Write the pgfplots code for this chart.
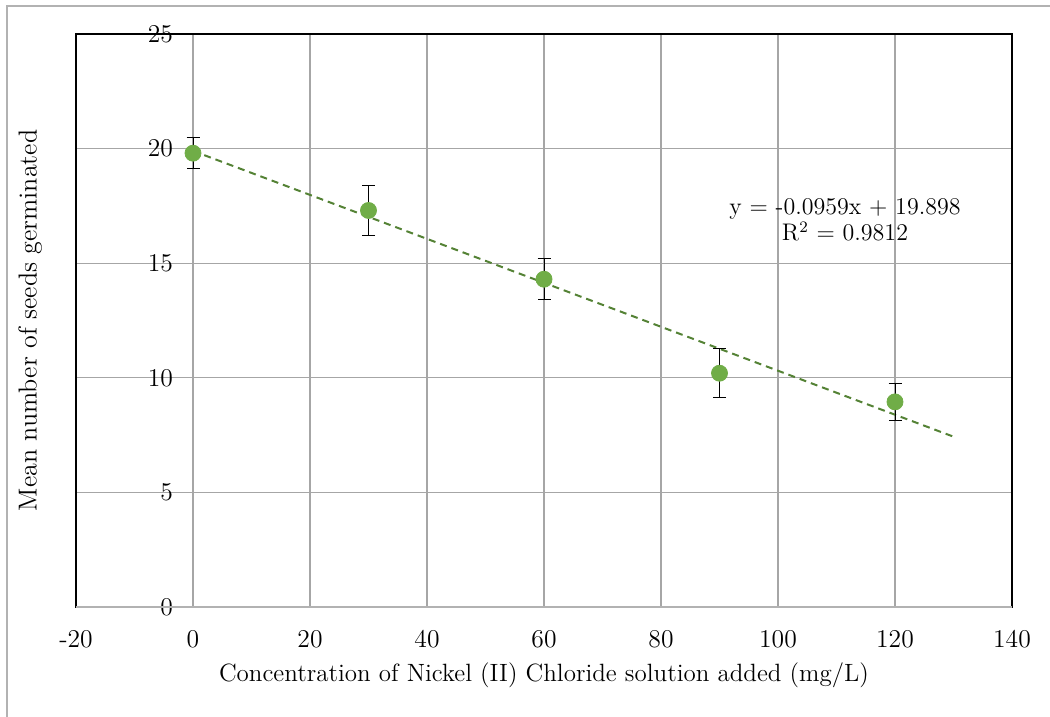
\documentclass[border=0pt]{standalone}
\usepackage{pgfplots}
\pgfplotsset{compat=1.18}
\definecolor{exgreen}{RGB}{112,173,71}
\definecolor{trendgreen}{RGB}{84,130,53}
\begin{document}
\begin{tikzpicture}[x=1pt,y=1pt]
\useasboundingbox (0,0) rectangle (525,358.5);
\draw[gray!60, line width=0.6pt] (3.5,-10) -- (3.5,355.5) -- (540,355.5);
\begin{axis}[
  at={(38pt,55pt)}, anchor=south west,
  scale only axis, width=468pt, height=286.5pt,
  xmin=-20, xmax=140, ymin=0, ymax=25,
  xtick={-20,0,20,40,60,80,100,120,140},
  xticklabels={-20,0,20,40,60,80,100,120,140},
  ytick={0,5,10,15,20,25},
  yticklabels={0,5,10,15,20,25},
  grid=major,
  major grid style={gray!70, line width=0.6pt},
  major tick length=0pt,
  axis line style={black, line width=0.6pt},
  tick label style={font=\fontsize{12.8}{15}\selectfont},
  yticklabel style={anchor=east, xshift=52pt},
  xticklabel style={anchor=north, yshift=-8.3pt},
  xlabel={Concentration of Nickel (II) Chloride solution added (mg/L)},
  ylabel={Mean number of seeds germinated},
  label style={font=\fontsize{12.5}{15}\selectfont},
  xlabel style={at={(axis description cs:0.5,-0.1187)}, anchor=center},
  ylabel style={at={(axis description cs:-0.049,0.5)}, anchor=center, font=\fontsize{13}{15}\selectfont},
  clip=false,
]
\draw[gray!60, line width=1.2pt] (axis cs:-20,0) -- (axis cs:140,0);
\addplot[trendgreen, line width=1pt, dash pattern=on 3.5pt off 2.5pt] coordinates {(0,19.898) (130,7.431)};
\addplot[only marks, mark=*, mark size=4pt, mark options={fill=exgreen, draw=exgreen},
  error bars/.cd, y dir=both, y explicit,
  error bar style={black, line width=0.5pt},
  error mark options={rotate=90, mark size=3.25pt, black, line width=0.5pt}]
  coordinates {
  (0,19.8) +- (0,0.67)
  (30,17.3) +- (0,1.1)
  (60,14.3) +- (0,0.9)
  (90,10.2) +- (0,1.07)
  (120,8.95) +- (0,0.82)
  };
\node[align=center, font=\fontsize{12}{13}\selectfont] at (axis cs:111.45,16.88) {y = -0.0959x + 19.898\\R\textsuperscript{2} = 0.9812};
\end{axis}
\end{tikzpicture}
\end{document}
